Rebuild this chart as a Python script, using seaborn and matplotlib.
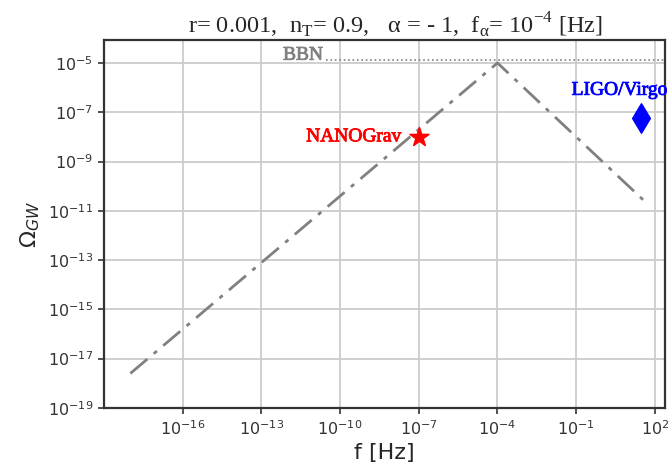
import numpy as np
import pandas as pd
import matplotlib
matplotlib.use('Agg')
import matplotlib.pyplot as plt
import matplotlib.patheffects as pe
import seaborn as sns

# spectrum: broken power law with peak at f_alpha
freq = [1e-18, 1e-4, 50]
omega = [2.5e-18, 1e-5, 2e-11]

# BBN bound
bbn_f = [3e-11, 300]
bbn_omega = [1.35e-5, 1.35e-5]

# experiments
nano_f, nano_omega = 1e-7, 1e-8
ligo_f, ligo_omega = 29, 6e-8

xticks = [1e-16, 1e-13, 1e-10, 1e-7, 1e-4, 1e-1, 1e2]
yticks = [1e-19, 1e-17, 1e-15, 1e-13, 1e-11, 1e-9, 1e-7, 1e-5]

sns.set_style('whitegrid', {'grid.color': '#cccccc', 'axes.edgecolor': '#333333'})

fig = plt.figure(figsize=(6.72, 4.71), dpi=100)
ax = fig.add_axes([0.155, 0.134, 0.835, 0.781])
ax.set(xscale='log', yscale='log')

spec = pd.DataFrame({'f': freq, 'omega': omega})
sns.lineplot(data=spec, x='f', y='omega', ax=ax, color='gray',
             linestyle=(0, (8, 3, 1.5, 3)), lw=2)
sns.lineplot(x=bbn_f, y=bbn_omega, ax=ax, color='gray', linestyle=':', lw=1.2)
sns.scatterplot(x=[nano_f], y=[nano_omega], ax=ax, marker='*', s=200,
                color='red', edgecolor='red', zorder=5)
sns.scatterplot(x=[ligo_f], y=[ligo_omega], ax=ax, marker='d', s=220,
                color='blue', edgecolor='blue', zorder=5)

serif = 'Liberation Serif'


def label(x, y, s, c, **kw):
    ax.text(x, y, s, color=c, family=serif, fontsize=14, clip_on=False,
            path_effects=[pe.withStroke(linewidth=0.6, foreground=c)], **kw)


label(2.3e-11, bbn_omega[0], 'BBN', 'gray', ha='right', va='baseline')
label(2.2e-8, nano_omega, 'NANOGrav', 'red', ha='right', va='center')
label(4.6, 3.5e-7, 'LIGO/Virgo', 'blue', ha='center', va='bottom')

ax.set_xlim(1e-19, 10**2.4)
ax.set_ylim(1e-19, 10**-4.07)
ax.set_xticks(xticks)
ax.set_yticks(yticks)
ax.minorticks_off()
ax.grid(True, lw=1.3)
for s in ax.spines.values():
    s.set_linewidth(1.6)
ax.tick_params(axis='both', which='major', length=4.5, width=1.2,
               labelsize=11.5, colors='#333333', direction='out')
ax.tick_params(bottom=True, left=True)

ax.set_xlabel('f [Hz]', fontsize=16)
ax.set_ylabel(r'$\Omega_{GW}$', fontsize=16)
ax.set_title(r'r= 0.001,  n$_\mathregular{T}$= 0.9,   α = - 1,  '
             r'f$_\mathregular{α}$= 10$^\mathregular{-4}$ [Hz]',
             family=serif, fontsize=17.6, pad=5, x=0.519)

fig.savefig('out.png', dpi=100)
